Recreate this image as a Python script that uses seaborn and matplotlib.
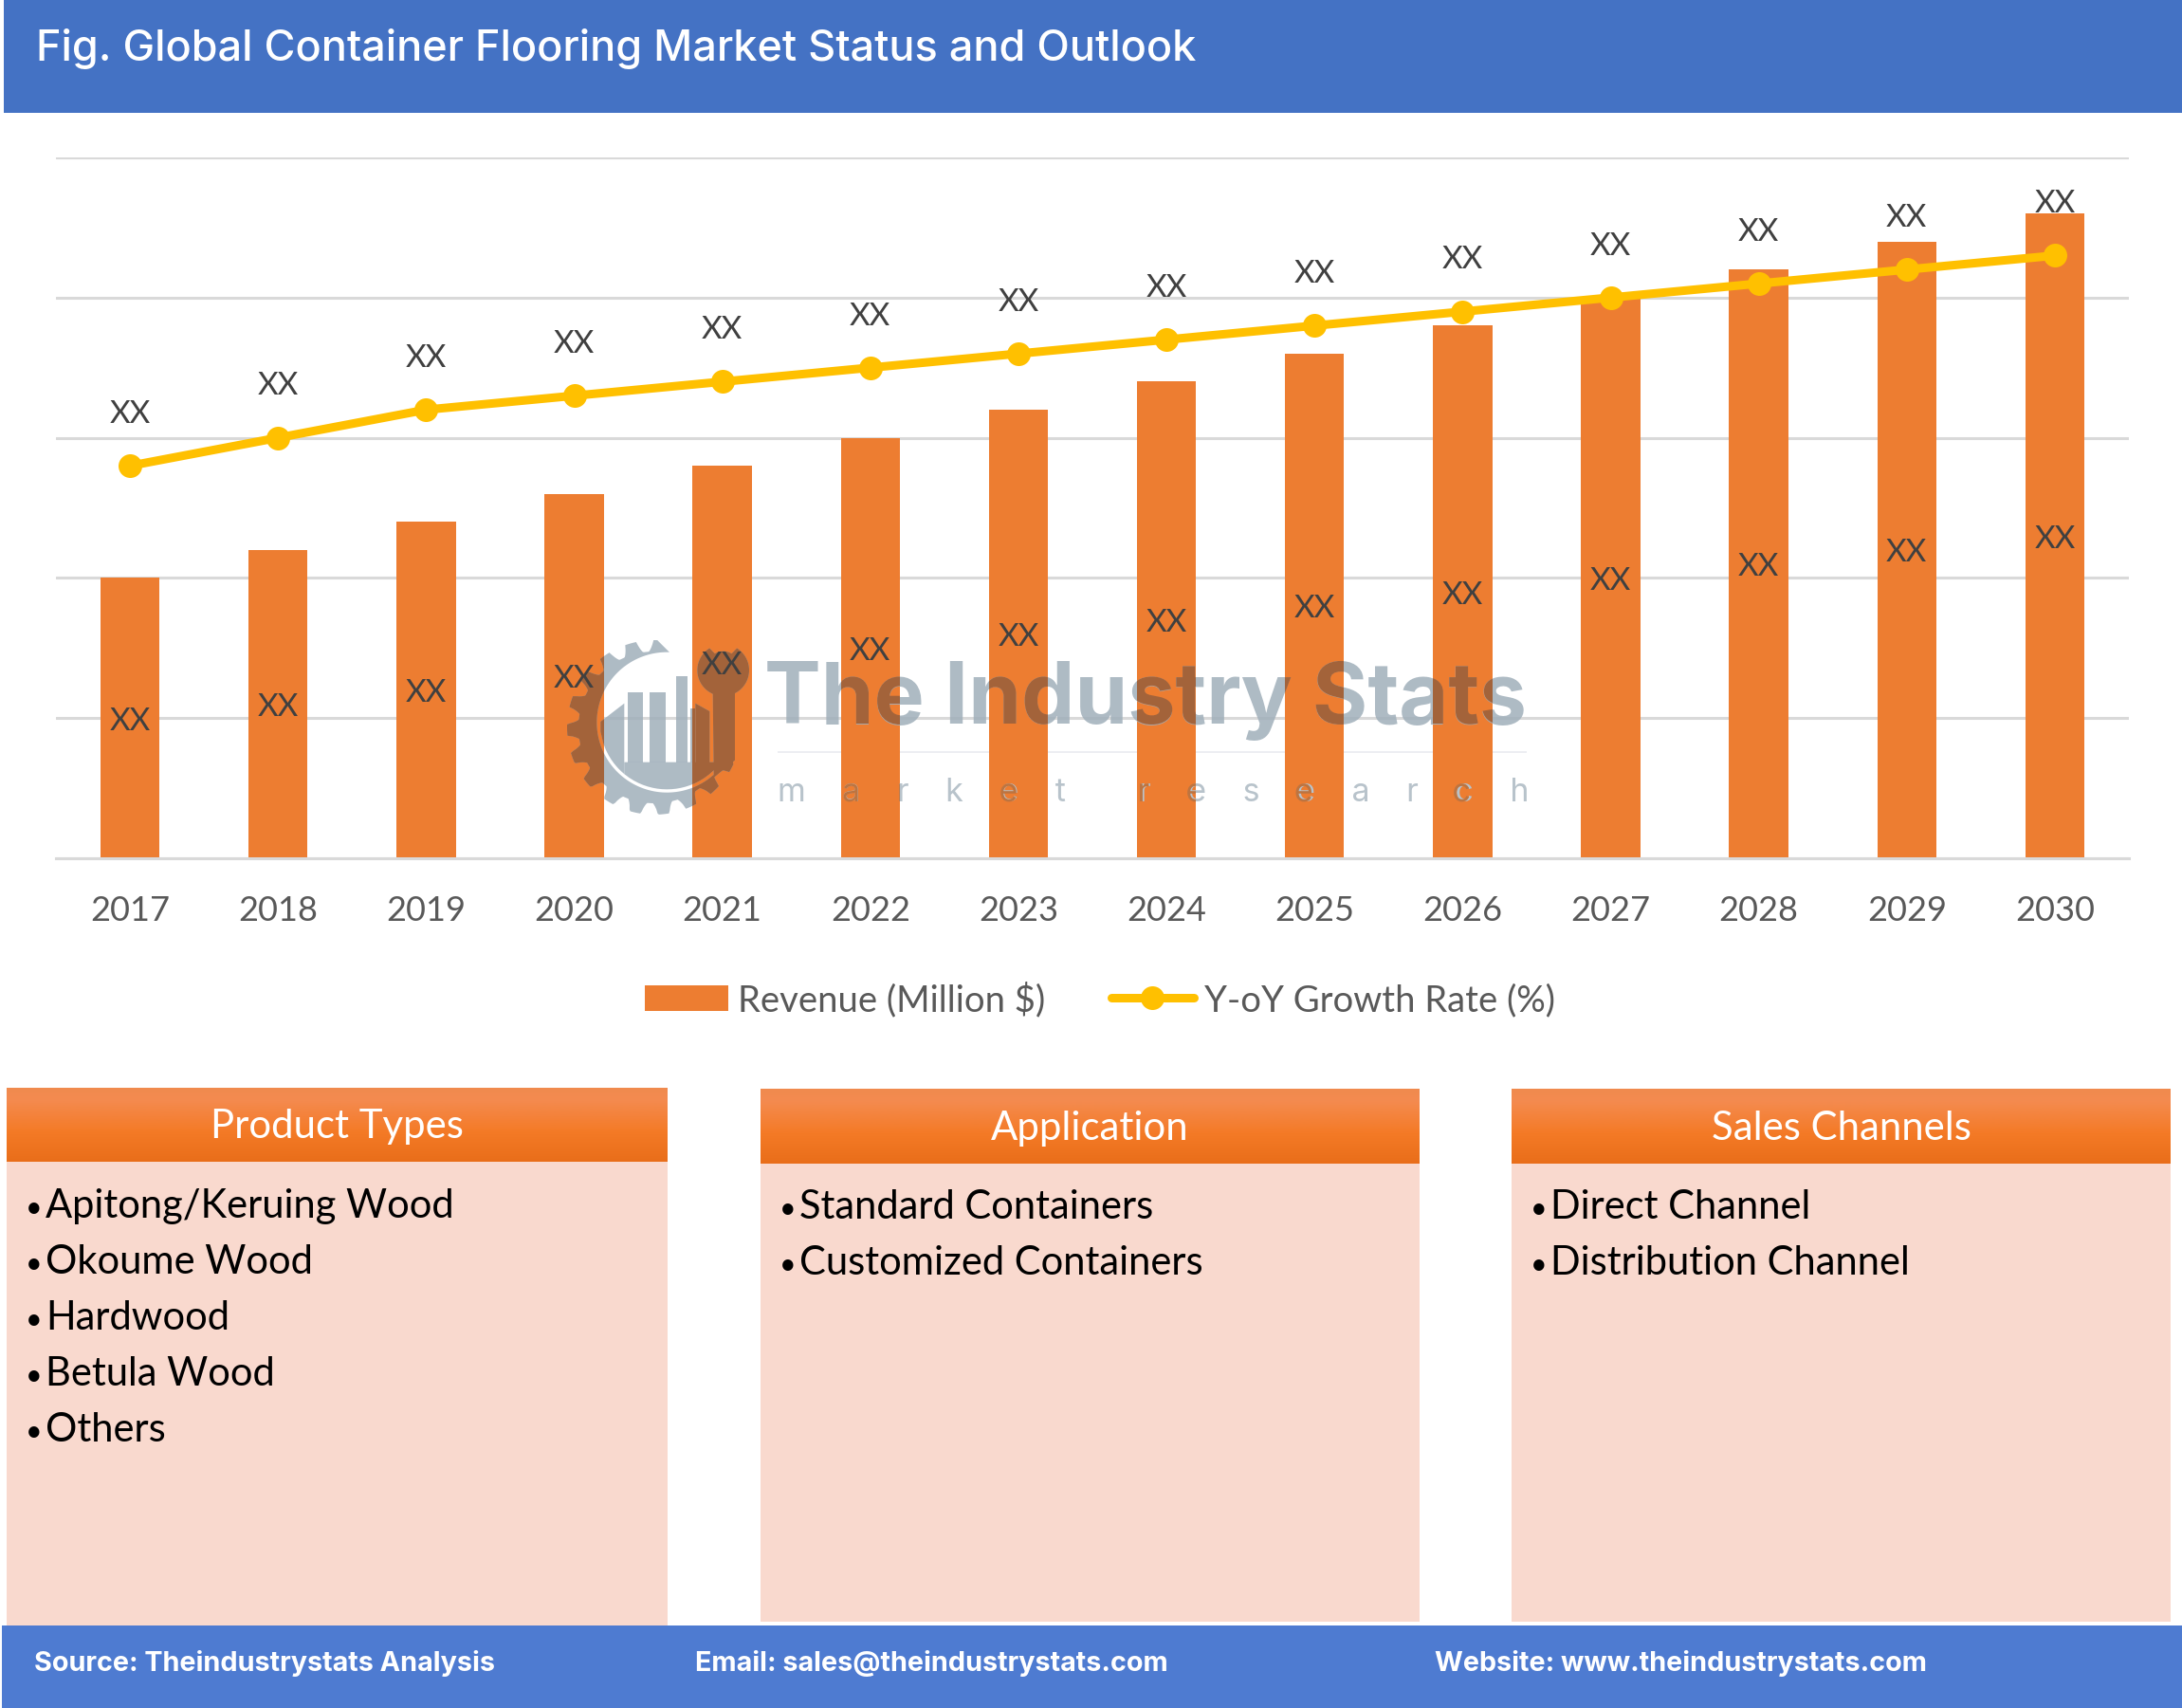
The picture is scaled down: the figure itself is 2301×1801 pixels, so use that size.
import numpy as np
import pandas as pd
import matplotlib
matplotlib.use("Agg")
import matplotlib.pyplot as plt
import seaborn as sns
from matplotlib.patches import Rectangle, Polygon, PathPatch
from matplotlib.path import Path
from matplotlib.textpath import TextPath
from matplotlib.font_manager import FontProperties
from matplotlib.transforms import Affine2D, IdentityTransform
from matplotlib.colors import LinearSegmentedColormap

years = [str(y) for y in range(2017, 2031)]
revenue = [100, 110, 120, 130, 140, 150, 160, 170, 180, 190, 200, 210, 220, 230]
growth = [140, 150, 160, 165, 170, 175, 180, 185, 190, 195, 200, 205, 210, 215]
point_labels = ["XX"] * 14
title = "Fig. Global Container Flooring Market Status and Outlook"
panel_titles = ["Product Types", "Application", "Sales Channels"]
panel_items = [
    ["Apitong/Keruing Wood", "Okoume Wood", "Hardwood", "Betula Wood", "Others"],
    ["Standard Containers", "Customized Containers"],
    ["Direct Channel", "Distribution Channel"],
]
footer = ["Source: Theindustrystats Analysis", "Email: sales@theindustrystats.com",
          "Website: www.theindustrystats.com"]
wm_title = "The Industry Stats"
wm_sub = "    ".join("market") + " " * 8 + "    ".join("research")

W, H = 2301, 1801
ORANGE = "#ED7D31"
YELLOW = "#FFC000"
GRID = "#D9D9D9"
TXT = "#595959"

sns.set_theme(style="white")
plt.rcParams["font.family"] = ["Lato", "DejaVu Sans"]

fig = plt.figure(figsize=(W / 100, H / 100), dpi=100, facecolor="white")
px = Affine2D().scale(1, -1).translate(0, H)   # pixel coordinates (y down) -> display


def fig_rect(x0, y0, x1, y1, **kw):
    fig.add_artist(Rectangle((x0, y0), x1 - x0, y1 - y0, transform=px, linewidth=0, **kw))


# --- header band
fig_rect(4, 0, W, 119, facecolor="#4472C4", zorder=0)
fig.text(38, 51, title, transform=px, color="white", fontsize=32.4, family="Inter",
         va="center", ha="left", fontweight="medium", zorder=3)

# --- chart
ax = fig.add_axes([59 / W, 1 - 905 / H, (2245 - 59) / W, (905 - 166) / H])
ax.patch.set_alpha(0)
df = pd.DataFrame({"year": years, "revenue": revenue, "growth": growth})
sns.barplot(data=df, x="year", y="revenue", color=ORANGE, saturation=1, width=0.4,
            linewidth=0, ax=ax, label="Revenue (Million $)", zorder=2)
positions = np.arange(len(years))
sns.lineplot(x=positions, y=growth, color=YELLOW, linewidth=6.5, marker="o", markersize=18,
             markeredgewidth=0, ax=ax, label="Y-oY Growth Rate (%)", zorder=4)
ax.set_xlim(-0.5, 13.5)
ax.set_ylim(0, 250)
ax.set_yticks(range(0, 251, 50))
ax.set_yticklabels([])
ax.set_xlabel("")
ax.set_ylabel("")
ax.grid(axis="y", color=GRID, linewidth=2.2, zorder=0)
ax.set_axisbelow(True)
for name, sp in ax.spines.items():
    sp.set_visible(name == "bottom")
ax.spines["bottom"].set_color(GRID)
ax.spines["bottom"].set_linewidth(2.2)
ax.tick_params(axis="x", length=0, labelsize=26, labelcolor=TXT, pad=28)
ax.tick_params(axis="y", length=0)

for i, (r, g) in enumerate(zip(revenue, growth)):
    ax.annotate(point_labels[i], (i, r / 2), xytext=(0, -2.5), textcoords="offset points",
                ha="center", va="center", fontsize=24, color="#404040", zorder=6)
    ax.annotate(point_labels[i], (i, g), xytext=(0, 39), textcoords="offset points",
                ha="center", va="center", fontsize=24, color="#404040", zorder=6)

h, l = ax.get_legend_handles_labels()
order = [l.index("Revenue (Million $)"), l.index("Y-oY Growth Rate (%)")]
ax.legend([h[i] for i in order], [l[i] for i in order], loc="center",
          bbox_to_anchor=((1160 - 59) / (2245 - 59), -(1054 - 905) / (905 - 166)),
          ncol=2, frameon=False, fontsize=27.5, labelcolor=TXT, handlelength=2.3, handletextpad=0.27,
          columnspacing=1.8)

# --- watermark: grey on white, brown where it sits on a bar
fig.canvas.draw()
bar_clip = Path.make_compound_path(*[p.get_path().transformed(p.get_transform()) for p in ax.patches])


def zp(x, y):
    """logo sketch coordinates -> figure pixels"""
    return 590 + np.asarray(x) / 3, 665 + np.asarray(y) / 3


def logo_polys():
    polys = []
    # toothed gear ring
    ccx, ccy = zp(340, 290)
    gx, gy = 690, 767
    n = 19
    ang_out = np.radians(np.linspace(-88, -335, 300))
    rad = 92 - 12 * np.clip(np.cos(n * ang_out + 0.5) + 0.25, 0, 1) ** 0.6
    outer = np.c_[gx + rad * np.cos(ang_out), gy + rad * np.sin(ang_out)]
    ang_in = ang_out[::-1]
    inner = np.c_[ccx + 74 * np.cos(ang_in), ccy + 74 * np.sin(ang_in)]
    polys.append(np.r_[outer, inner])

    # factory silhouette, cut off by the inner circle
    def ybot(x):
        return 290 + np.sqrt(np.maximum(212 ** 2 - (x - 340) ** 2, 0))

    def column(x0, x1, top0, top1=None, bottom=None):
        top1 = top0 if top1 is None else top1
        xs = np.linspace(x1, x0, 10)
        ys = ybot(xs) if bottom is None else np.full(10, bottom)
        zx, zy = zp(np.r_[x0, x1, xs], np.r_[top0, top1, ys])
        return np.c_[zx, zy]

    polys.append(column(130, 205, 288, 230))
    for x0, x1, top in [(215, 265, 195), (285, 335, 195), (368, 405, 145), (415, 430, 245)]:
        polys.append(column(x0, x1, top, bottom=418))
    xs = np.linspace(205, 548, 24)
    zx, zy = zp(np.r_[xs, xs[::-1]], np.r_[np.full(24, 416), ybot(xs[::-1])])
    polys.append(np.c_[zx, zy])
    # wrench
    head = np.radians(np.linspace(-58, 238, 60))
    hx, hy = zp(518 + 82 * np.cos(head), 125 + 82 * np.sin(head))
    notch = np.radians(np.linspace(238, 302, 12))
    nx, ny = zp(518 + 50 * np.cos(notch), 115 + 50 * np.sin(notch))
    polys.append(np.c_[np.r_[hx, nx[::1]], np.r_[hy, ny]])
    wx, wy = zp([485, 555, 555, 488], [190, 190, 410, 465])
    polys.append(np.c_[wx, wy])
    wx, wy = zp([430, 475, 475, 430], [230, 255, 440, 440])
    polys.append(np.c_[wx, wy])
    return polys


def add_logo(color, alpha=None, clip=False):
    for pts in logo_polys():
        a = Polygon(pts, closed=True, facecolor=color, edgecolor="none", transform=px,
                    zorder=3 if not clip else 3.2, alpha=alpha)
        ax.add_artist(a)
        if clip:
            a.set_clip_path(bar_clip, IdentityTransform())


add_logo("#A0AFBA", alpha=0.85)
ax.text(806, 763, wm_title, transform=px, family="Inter", fontweight="bold", fontsize=64.5,
        color="#A0AFBA", alpha=0.85, zorder=3, va="baseline", ha="left")
ax.text(820, 845, wm_sub, transform=px, family="Inter", fontweight="normal", fontsize=24.5,
        color="#B8C3CB", zorder=3, va="baseline", ha="left")
# the same words as outlines, limited to the bars, give the darker overprint
add_logo("#A3633A", clip=True)
for s, x, y, size, weight, col in [(wm_title, 806, 763, 64.5, "bold", "#A3633A"),
                                   (wm_sub, 820, 845, 24.5, "normal", "#BD7440")]:
    tp = TextPath((0, 0), s, size=size, prop=FontProperties(family="Inter", weight=weight))
    patch = PathPatch(tp, facecolor=col, edgecolor="none", zorder=3.2,
                      transform=Affine2D().scale(100 / 72).translate(x, H - y))
    ax.add_artist(patch)
    patch.set_clip_path(bar_clip, IdentityTransform())
ax.add_artist(Rectangle((820, 792), 790, 2, transform=px, facecolor="#EDEEF2", linewidth=0, zorder=1))

# --- panels
panel_geom = [(7, 704, 1147, 1225, 1714, 0), (802, 1497, 1148, 1227, 1710, 1), (1594, 2289, 1148, 1227, 1710, 1)]
head_cmap = LinearSegmentedColormap.from_list(
    "head", [(0, "#F08A4E"), (0.15, "#F48B50"), (0.6, "#F47A26"), (1, "#E96E1A")])
panel_ax = fig.add_axes([0, 0, 1, 1], zorder=-1)
panel_ax.set_xlim(0, W)
panel_ax.set_ylim(H, 0)
panel_ax.axis("off")
for (x0, x1, y0, y1, y2, dy), head, items in zip(panel_geom, panel_titles, panel_items):
    panel_ax.add_patch(Rectangle((x0, y1), x1 - x0, y2 - y1, facecolor="#F9D9CE", linewidth=0))
    panel_ax.imshow(np.linspace(0, 1, 80)[:, None], cmap=head_cmap, aspect="auto",
                    extent=(x0, x1, y1, y0), zorder=2)
    panel_ax.text((x0 + x1) / 2, (y0 + y1) / 2 + 2, head, color="white", fontsize=30.2,
                  ha="center", va="center", zorder=3)
    for k, item in enumerate(items):
        y = 1284 + dy + k * 59
        panel_ax.text(x0 + 20, y - 10, "\u2022", color="black", fontsize=22, ha="left", va="center", zorder=3)
        panel_ax.text(x0 + 41, y, item, color="black", fontsize=30, ha="left", va="baseline", zorder=3)
panel_ax.set_xlim(0, W)
panel_ax.set_ylim(H, 0)

# --- footer
fig_rect(2, 1714, W, H, facecolor="#4E7BD1", zorder=5)
for x, s in zip([36, 733, 1513], footer):
    fig.text(x, 1754, s, transform=px, color="white", fontsize=20.7, family="Inter", fontweight="bold",
             va="center", ha="left", zorder=6)

fig.savefig("out.png", dpi=100, facecolor="white")
